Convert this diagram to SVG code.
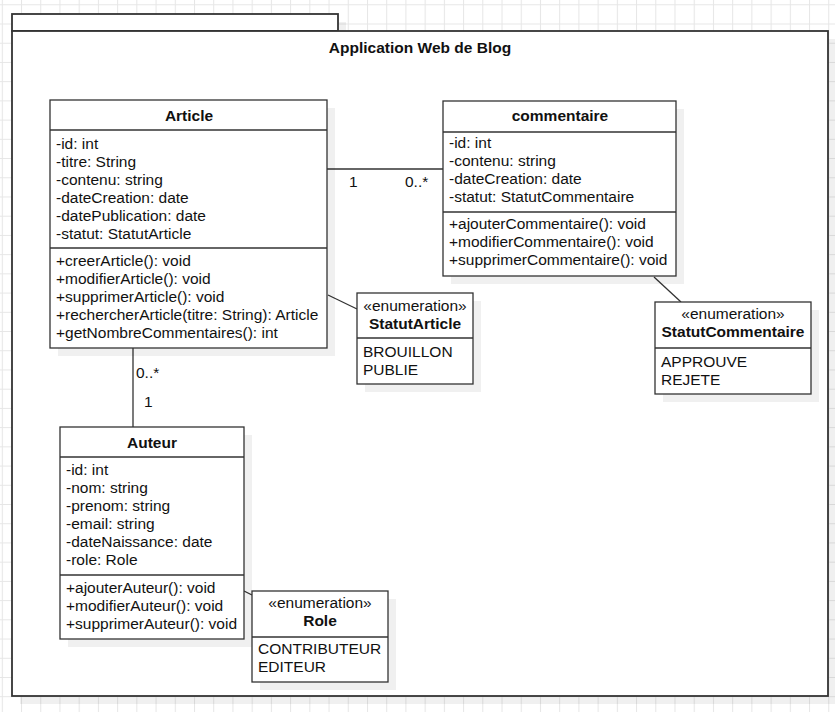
<svg xmlns="http://www.w3.org/2000/svg" width="835" height="712" viewBox="0 0 835 712">
<style>
text{font-family:"Liberation Sans",Arial,Helvetica,sans-serif;font-size:15.5px;fill:#111}
.b{font-weight:bold}
.c{text-anchor:middle}
.box{fill:#fff;stroke:#333;stroke-width:1.3}
.div{stroke:#333;stroke-width:1.3;fill:none}
.sh{fill:#000;fill-opacity:0.06}
.pkg{fill:#fff;stroke:#333;stroke-width:1.8}
.edge{stroke:#333;stroke-width:1.3;fill:none}
</style>
<defs>
<pattern id="grid" x="1.8" y="4.3" width="19.22" height="19.22" patternUnits="userSpaceOnUse">
<path d="M0 0.5H19.22M0.5 0V19.22" stroke="#e6e6e6" stroke-width="1" fill="none"/>
</pattern>
</defs>
<rect x="0" y="0" width="835" height="712" fill="#fff"/>
<rect x="0" y="0" width="835" height="712" fill="url(#grid)"/>

<g id="package">
<rect class="sh" x="20" y="22" width="326" height="17"/>
<rect class="sh" x="20" y="39" width="816" height="665"/>
<rect class="pkg" x="12" y="14" width="326" height="17"/>
<rect class="pkg" x="12" y="31" width="816" height="665"/>
<text class="b c" x="420" y="53">Application Web de Blog</text>
</g>

<g id="connectors">
<line class="edge" x1="327" y1="169" x2="443" y2="169"/>
<text x="349" y="187">1</text>
<text x="405" y="187">0..*</text>
<line class="edge" x1="133" y1="348" x2="133" y2="427"/>
<text x="136" y="378">0..*</text>
<text x="144" y="407">1</text>
<line class="edge" x1="328" y1="295" x2="357" y2="309"/>
<line class="edge" x1="654" y1="277" x2="681" y2="302"/>
<line class="edge" x1="244" y1="591" x2="252" y2="595"/>
</g>

<g id="article">
<rect class="sh" x="58" y="108" width="277" height="248"/>
<rect class="box" x="50" y="100" width="277" height="248"/>
<line class="div" x1="50" y1="130" x2="327" y2="130"/>
<line class="div" x1="50" y1="248" x2="327" y2="248"/>
<text class="b c" x="189" y="121">Article</text>
<text x="56" y="149">-id: int</text>
<text x="56" y="167">-titre: String</text>
<text x="56" y="185">-contenu: string</text>
<text x="56" y="203">-dateCreation: date</text>
<text x="56" y="221">-datePublication: date</text>
<text x="56" y="239">-statut: StatutArticle</text>
<text x="56" y="266">+creerArticle(): void</text>
<text x="56" y="284">+modifierArticle(): void</text>
<text x="56" y="302">+supprimerArticle(): void</text>
<text x="56" y="320">+rechercherArticle(titre: String): Article</text>
<text x="56" y="338">+getNombreCommentaires(): int</text>
</g>

<g id="commentaire">
<rect class="sh" x="451" y="109" width="233" height="175"/>
<rect class="box" x="443" y="101" width="233" height="175"/>
<line class="div" x1="443" y1="132" x2="676" y2="132"/>
<line class="div" x1="443" y1="212" x2="676" y2="212"/>
<text class="b c" x="560" y="121">commentaire</text>
<text x="449" y="148">-id: int</text>
<text x="449" y="166">-contenu: string</text>
<text x="449" y="184">-dateCreation: date</text>
<text x="449" y="202">-statut: StatutCommentaire</text>
<text x="449" y="229">+ajouterCommentaire(): void</text>
<text x="449" y="247">+modifierCommentaire(): void</text>
<text x="449" y="265">+supprimerCommentaire(): void</text>
</g>

<g id="statutArticle">
<rect class="sh" x="365" y="301" width="116" height="91"/>
<rect class="box" x="357" y="293" width="116" height="91"/>
<line class="div" x1="357" y1="338" x2="473" y2="338"/>
<text class="c" x="415" y="311">«enumeration»</text>
<text class="b c" x="415" y="329">StatutArticle</text>
<text x="363" y="357">BROUILLON</text>
<text x="363" y="375">PUBLIE</text>
</g>

<g id="statutCommentaire">
<rect class="sh" x="663" y="310" width="156" height="92"/>
<rect class="box" x="655" y="302" width="156" height="92"/>
<line class="div" x1="655" y1="348" x2="811" y2="348"/>
<text class="c" x="733" y="319">«enumeration»</text>
<text class="b c" x="733" y="337">StatutCommentaire</text>
<text x="661" y="367">APPROUVE</text>
<text x="661" y="385">REJETE</text>
</g>

<g id="auteur">
<rect class="sh" x="68" y="435" width="184" height="212"/>
<rect class="box" x="60" y="427" width="184" height="212"/>
<line class="div" x1="60" y1="457" x2="244" y2="457"/>
<line class="div" x1="60" y1="575" x2="244" y2="575"/>
<text class="b c" x="152" y="448">Auteur</text>
<text x="66" y="475">-id: int</text>
<text x="66" y="493">-nom: string</text>
<text x="66" y="511">-prenom: string</text>
<text x="66" y="529">-email: string</text>
<text x="66" y="547">-dateNaissance: date</text>
<text x="66" y="565">-role: Role</text>
<text x="66" y="593">+ajouterAuteur(): void</text>
<text x="66" y="611">+modifierAuteur(): void</text>
<text x="66" y="629">+supprimerAuteur(): void</text>
</g>

<g id="role">
<rect class="sh" x="260" y="599" width="136" height="91"/>
<rect class="box" x="252" y="591" width="136" height="91"/>
<line class="div" x1="252" y1="637" x2="388" y2="637"/>
<text class="c" x="320" y="608">«enumeration»</text>
<text class="b c" x="320" y="626">Role</text>
<text x="258" y="654">CONTRIBUTEUR</text>
<text x="258" y="672">EDITEUR</text>
</g>
</svg>
